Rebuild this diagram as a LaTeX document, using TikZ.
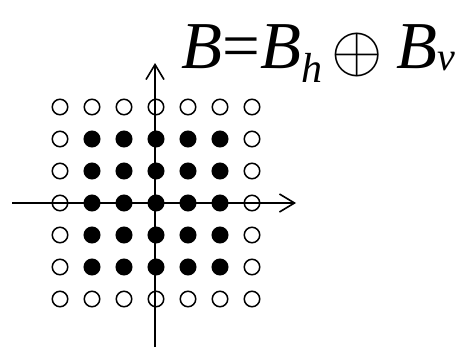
\documentclass[tikz,border=0pt]{standalone}
\usepackage{graphicx}
\usepackage{fontspec}
\setmainfont{Liberation Serif}
\usetikzlibrary{arrows.meta}

\begin{document}
\begin{tikzpicture}[x=1pt, y=1pt, line width=1.6pt,
    lattice/.style={circle, draw=black, line width=1.5pt, minimum size=15.5pt, inner sep=0pt},
    hollow/.style={lattice},
    solid dot/.style={lattice, fill=black},
    axis/.style={-{Straight Barb[length=15pt, width=18pt, line width=1.6pt]}}]
    \useasboundingbox (0,0) rectangle (463,349);
    % axes
    \coordinate (xl) at (12,146);
    \coordinate (xr) at (296,146);
    \coordinate (yb) at (155,2);
    \coordinate (yt) at (155,286);
    \draw[axis] (xl) -- (xr);
    \draw[axis] (yb) -- (yt);
    % lattice points
    \foreach \i in {0,...,6} {
        \foreach \j in {0,...,6} {
            \pgfmathtruncatemacro{\edge}{(\i==0)||(\i==6)||(\j==0)||(\j==6)}
            \ifnum\edge=1
                \node[hollow] (p-\i-\j) at ({60+32*\i},{242-32*\j}) {};
            \else
                \node[solid dot] (p-\i-\j) at ({60+32*\i},{242-32*\j}) {};
            \fi
        }
    }
    % decomposition
    \node[anchor=base west, inner sep=0pt] (eq) at (181,281)
        {\fontsize{67}{67}\selectfont\itshape B\upshape=\itshape B\raisebox{-14pt}{\fontsize{42}{42}\selectfont\itshape h}\hspace{9pt}\raisebox{-3pt}{\fontsize{10}{12}\selectfont\scalebox{6.6}{$\oplus$}}\hspace{14pt}\itshape B\raisebox{-2pt}{\fontsize{40}{40}\selectfont\itshape v}};
\end{tikzpicture}
\end{document}
